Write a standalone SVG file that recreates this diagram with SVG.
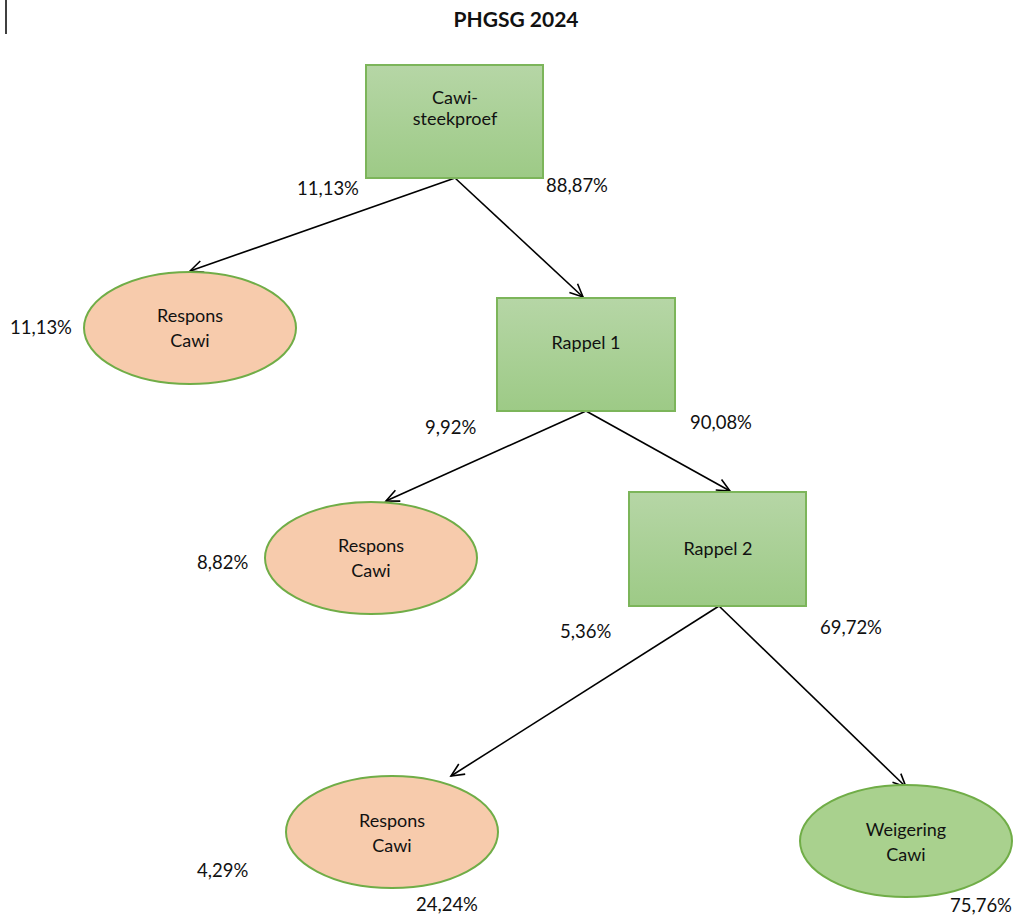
<svg xmlns="http://www.w3.org/2000/svg" width="1026" height="918" viewBox="0 0 1026 918">
<style>
text{font-family:Lato,"Open Sans","Liberation Sans",sans-serif;fill:#111;}
.t{font-size:18px;text-anchor:middle;}
.p{font-size:18.5px;}
.title{font-size:21px;font-weight:bold;text-anchor:middle;}
.box{fill:url(#g);stroke:#7cb55a;stroke-width:2;}
.resp{fill:#f7cbac;stroke:#70ad47;stroke-width:2;}
.weig{fill:#a9d18e;stroke:#70ad47;stroke-width:2;}
.c{stroke:#000;stroke-width:1.6;fill:none;marker-end:url(#a);}
</style>
<defs>
<linearGradient id="g" x1="0" y1="0" x2="0" y2="1">
<stop offset="0" stop-color="#b6d6a6"/>
<stop offset="1" stop-color="#9dca86"/>
</linearGradient>
<marker id="a" markerWidth="20" markerHeight="20" refX="14" refY="7" orient="auto" markerUnits="userSpaceOnUse">
<path d="M1,1 L14,7 L1,13" fill="none" stroke="#000" stroke-width="1.6"/>
</marker>
</defs>
<line x1="6" y1="0" x2="6" y2="34" stroke="#000" stroke-width="1.5"/>
<text class="title" x="516" y="27">PHGSG 2024</text>
<g id="connectors">
<line class="c" x1="455" y1="178" x2="190" y2="271"/>
<line class="c" x1="455" y1="178" x2="583" y2="297"/>
<line class="c" x1="586" y1="411" x2="386" y2="501"/>
<line class="c" x1="586" y1="411" x2="730" y2="491"/>
<line class="c" x1="719" y1="606" x2="451" y2="776"/>
<line class="c" x1="719" y1="606" x2="906" y2="787"/>
</g>
<g id="n1">
<rect class="box" x="366" y="65" width="177" height="113"/>
<text class="t" x="455" y="104">Cawi-</text>
<text class="t" x="455" y="125">steekproef</text>
</g>
<g id="n2">
<ellipse class="resp" cx="190" cy="328" rx="106" ry="56"/>
<text class="t" x="190" y="322">Respons</text>
<text class="t" x="190" y="347">Cawi</text>
</g>
<g id="n3">
<rect class="box" x="497" y="298" width="178" height="113"/>
<text class="t" x="586" y="349">Rappel 1</text>
</g>
<g id="n4">
<ellipse class="resp" cx="371" cy="558" rx="106" ry="56"/>
<text class="t" x="371" y="552">Respons</text>
<text class="t" x="371" y="577">Cawi</text>
</g>
<g id="n5">
<rect class="box" x="629" y="492" width="177" height="114"/>
<text class="t" x="718" y="555">Rappel 2</text>
</g>
<g id="n6">
<ellipse class="resp" cx="392" cy="832" rx="106" ry="56"/>
<text class="t" x="392" y="827">Respons</text>
<text class="t" x="392" y="852">Cawi</text>
</g>
<g id="n7">
<ellipse class="weig" cx="906" cy="841" rx="106" ry="56"/>
<text class="t" x="906" y="836">Weigering</text>
<text class="t" x="906" y="861">Cawi</text>
</g>
<g id="labels">
<text class="p" x="297" y="195">11,13%</text>
<text class="p" x="546" y="192">88,87%</text>
<text class="p" x="10" y="334">11,13%</text>
<text class="p" x="425" y="434">9,92%</text>
<text class="p" x="690" y="429">90,08%</text>
<text class="p" x="197" y="569">8,82%</text>
<text class="p" x="560" y="638">5,36%</text>
<text class="p" x="820" y="634">69,72%</text>
<text class="p" x="197" y="877">4,29%</text>
<text class="p" x="416" y="911">24,24%</text>
<text class="p" x="950" y="912">75,76%</text>
</g>
</svg>
